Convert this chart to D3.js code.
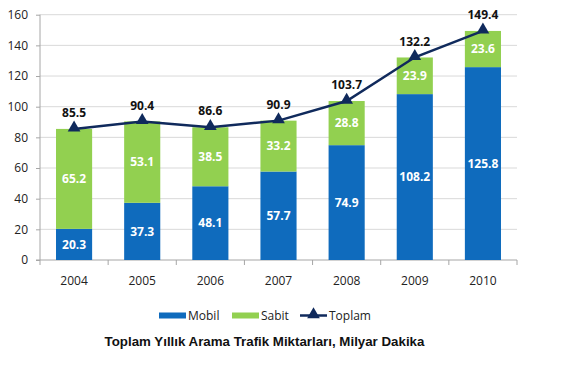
<!DOCTYPE html>
<html><head><meta charset="utf-8">
<script src="https://cdn.jsdelivr.net/npm/d3@7"></script>
<style>body{margin:0;background:#fff}svg{display:block}</style>
</head><body><svg id="c" width="579" height="381"></svg>
<script>
const years = ["2004","2005","2006","2007","2008","2009","2010"];
const mobil = [20.3,37.3,48.1,57.7,74.9,108.2,125.8];
const sabit = [65.2,53.1,38.5,33.2,28.8,23.9,23.6];
const toplam = [85.5,90.4,86.6,90.9,103.7,132.2,149.4];
const yTicks = [0,20,40,60,80,100,120,140,160];
const legendLabels = ["Mobil","Sabit","Toplam"];
const title = "Toplam Yıllık Arama Trafik Miktarları, Milyar Dakika";

(function(){
const C_BLUE="#0F6BBD", C_GREEN="#92D050", C_NAVY="#102A5C";
const FONT="'Open Sans', Lato, sans-serif";
const svg=d3.select("#c");
const pl=40, pr=517, pt=14.7, pb=260;
const x=d3.scaleBand().domain(years).range([pl,pr]).paddingInner(0.47).paddingOuter(0.235);
const xb=d3.scaleBand().domain(years).range([pl,pr]);
const y=d3.scaleLinear().domain([0,160]).range([pb,pt]);

// grid
svg.append("g").selectAll("line").data(yTicks.slice(1)).join("line")
  .attr("x1",pl).attr("x2",pr).attr("y1",d=>y(d)).attr("y2",d=>y(d))
  .attr("stroke","#D9D9D9").attr("stroke-width",1);

// y axis
const ya=svg.append("g").attr("transform",`translate(${pl},0)`)
  .call(d3.axisLeft(y).tickValues(yTicks).tickSize(4).tickPadding(4));
ya.select(".domain").attr("stroke","#A6A6A6").attr("d",`M0,${pt}V${pb}`);
ya.selectAll(".tick line").attr("stroke","#A6A6A6");
ya.selectAll("text").attr("font-family",FONT).attr("font-size",12).attr("fill","#222").attr("dx",-4);

// x axis
const xa=svg.append("g").attr("transform",`translate(0,${pb})`)
  .call(d3.axisBottom(xb).tickSize(0).tickPadding(16));
xa.select(".domain").attr("stroke","#A6A6A6").attr("d",`M${pl-4},0H${pr}`);
xa.selectAll("text").attr("font-family",FONT).attr("font-size",12).attr("fill","#222");
svg.append("g").selectAll("line").data(years.concat(["end"])).join("line")
  .attr("x1",(d,i)=>pl+i*xb.bandwidth()).attr("x2",(d,i)=>pl+i*xb.bandwidth())
  .attr("y1",pb).attr("y2",pb+5).attr("stroke","#A6A6A6");

// bars
const g=svg.append("g");
g.selectAll(".m").data(years).join("rect")
  .attr("x",d=>x(d)).attr("width",x.bandwidth())
  .attr("y",(d,i)=>y(mobil[i])).attr("height",(d,i)=>y(0)-y(mobil[i])).attr("fill",C_BLUE);
g.selectAll(".s").data(years).join("rect")
  .attr("x",d=>x(d)).attr("width",x.bandwidth())
  .attr("y",(d,i)=>y(mobil[i]+sabit[i])).attr("height",(d,i)=>y(mobil[i])-y(mobil[i]+sabit[i])).attr("fill",C_GREEN);

// bar labels
const cx=d=>x(d)+x.bandwidth()/2;
g.selectAll(".ml").data(years).join("text")
  .attr("x",cx).attr("y",(d,i)=>y(mobil[i]/2)).attr("dy","0.35em")
  .attr("text-anchor","middle").attr("font-family",FONT).attr("font-weight","bold").attr("font-size",12).attr("fill","#fff")
  .text((d,i)=>mobil[i].toFixed(1));
g.selectAll(".sl").data(years).join("text")
  .attr("x",cx).attr("y",(d,i)=>y(mobil[i]+sabit[i]/2)).attr("dy","0.35em")
  .attr("text-anchor","middle").attr("font-family",FONT).attr("font-weight","bold").attr("font-size",12).attr("fill","#fff")
  .text((d,i)=>sabit[i].toFixed(1));

// line
const line=d3.line().x((d,i)=>cx(years[i])).y(d=>y(d));
svg.append("path").datum(toplam).attr("d",line).attr("fill","none").attr("stroke",C_NAVY).attr("stroke-width",2.5);
const tri=d3.symbol().type(d3.symbolTriangle).size(70);
svg.append("g").selectAll("path").data(toplam).join("path")
  .attr("d",tri).attr("transform",(d,i)=>`translate(${cx(years[i])},${y(d)-1})`).attr("fill",C_NAVY);
svg.append("g").selectAll("text").data(toplam).join("text")
  .attr("x",(d,i)=>cx(years[i])).attr("y",d=>y(d)-16).attr("dy","0.35em")
  .attr("text-anchor","middle").attr("font-family",FONT).attr("font-weight","bold").attr("font-size",12).attr("fill","#111")
  .text(d=>d.toFixed(1));

// legend
const lg=svg.append("g").attr("font-family",FONT).attr("font-size",12).attr("fill","#222");
lg.append("rect").attr("x",159).attr("y",312.5).attr("width",27).attr("height",6).attr("fill",C_BLUE);
lg.append("text").attr("x",188).attr("y",315.5).attr("dy","0.35em").text(legendLabels[0]);
lg.append("rect").attr("x",232).attr("y",312.5).attr("width",27).attr("height",6).attr("fill",C_GREEN);
lg.append("text").attr("x",261).attr("y",315.5).attr("dy","0.35em").text(legendLabels[1]);
lg.append("line").attr("x1",300).attr("x2",327).attr("y1",315.5).attr("y2",315.5).attr("stroke",C_NAVY).attr("stroke-width",2.5);
lg.append("path").attr("d",tri).attr("transform","translate(313.5,314.5)").attr("fill",C_NAVY);
lg.append("text").attr("x",329).attr("y",315.5).attr("dy","0.35em").text(legendLabels[2]);

// title
svg.append("text").attr("x",264.5).attr("y",341).attr("dy","0.35em").attr("text-anchor","middle")
  .attr("font-family","'Liberation Sans', Arial, sans-serif").attr("font-weight","bold").attr("font-size",13.3).attr("fill","#111")
  .text(title);
})();
</script></body></html>
